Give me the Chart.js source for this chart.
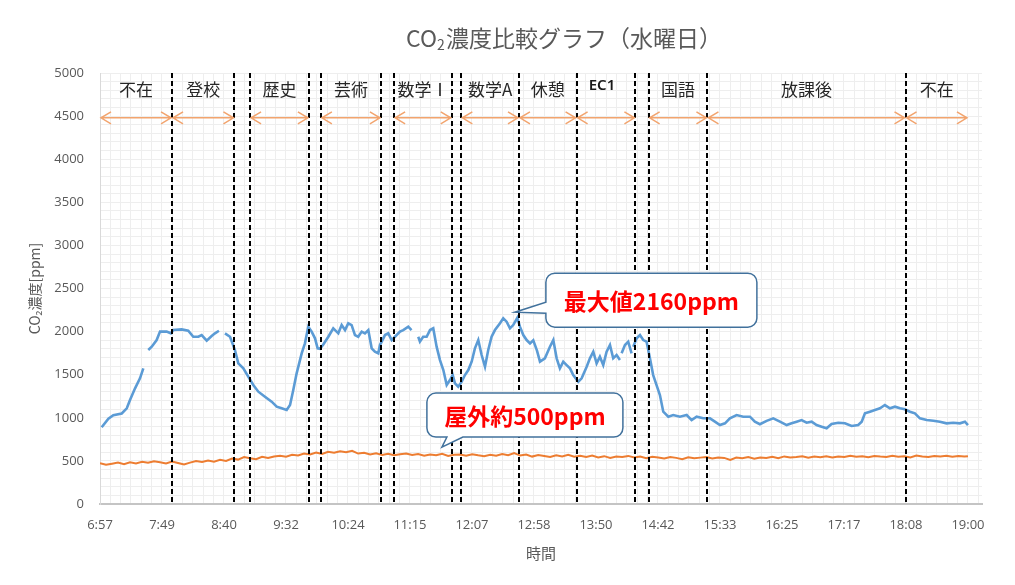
<!DOCTYPE html>
<html lang="ja">
<head>
<meta charset="utf-8">
<title>CO2濃度比較グラフ（水曜日）</title>
<script src="https://cdn.jsdelivr.net/npm/chart.js@4.4.1/dist/chart.umd.min.js"></script>
<style>
  html, body { margin: 0; padding: 0; background: #fff; }
  #wrap { width: 1015px; height: 585px; }
</style>
</head>
<body>
<div id="wrap"><canvas id="co2Chart" width="1015" height="585"></canvas></div>
<script>
// ============================================================
// CO2 comparison (Wednesday) — classroom vs outdoor
// times are minutes since midnight (6:57 = 417, 19:00 = 1140)
// ============================================================

const tickLabels = ['6:57', '7:49', '8:40', '9:32', '10:24', '11:15', '12:07', '12:58',
  '13:50', '14:42', '15:33', '16:25', '17:17', '18:08', '19:00'];
const X_START = 417, X_END = 1140, X_MAX = 1151.7;

// classroom sensor (null = missing reading)
const roomTimes = [
  418.4, 424.0, 428.1, 435.1, 439.3, 442.0, 446.2, 450.3, 453.1, 455.0,
  457.2, 460.1, 464.2, 467.0, 472.5, 476.1, 478.1, 485.0, 490.5, 494.7,
  498.9, 501.7, 505.9, 510.0, 512.8, 516.1, 518.5, 521.1, 525.3, 529.4,
  532.2, 536.4, 540.5, 544.7, 548.9, 554.4, 560.0, 564.2, 568.3, 572.5,
  575.3, 578.0, 580.8, 585.0, 587.7, 590.5, 593.3, 596.1, 598.3, 600.2,
  603.0, 607.2, 611.3, 615.5, 618.3, 621.1, 623.8, 626.6, 629.4, 632.1,
  635.0, 637.7, 640.5, 643.3, 646.0, 648.8, 650.2, 654.4, 657.1, 660.0,
  662.7, 666.9, 669.6, 673.8, 676.5, 679.3, 682.1, 683.5, 686.2, 689.1,
  691.9, 694.6, 697.4, 700.2, 703.0, 705.8, 708.5, 710.8, 712.7, 715.4,
  718.3, 721.0, 723.8, 726.6, 729.3, 732.1, 734.9, 737.7, 740.4, 743.2,
  746.0, 750.2, 752.9, 755.7, 758.5, 761.2, 764.6, 766.8, 769.6, 772.4,
  775.2, 777.9, 781.0, 783.5, 787.6, 791.8, 794.6, 797.4, 800.1, 802.9,
  805.7, 808.5, 811.2, 815.4, 818.2, 822.4, 825.1, 827.9, 830.7, 833.4,
  836.2, 839.0, 841.8, 844.5, 847.3, 850.1, 850.8, 851.5, 854.3, 857.0,
  859.8, 860.5, 861.2, 864.0, 866.8, 869.5, 872.3, 875.1, 877.8, 880.6,
  883.4, 886.2, 890.4, 894.5, 900.1, 905.7, 909.8, 914.0, 919.5, 925.1,
  929.2, 933.4, 937.6, 941.7, 947.3, 952.8, 958.4, 962.5, 966.7, 972.3,
  977.8, 983.4, 989.0, 993.1, 997.3, 1001.4, 1005.6, 1009.8, 1013.9, 1018.1,
  1022.3, 1026.4, 1032.0, 1037.5, 1043.1, 1048.6, 1051.5, 1054.2, 1058.4, 1062.5,
  1066.7, 1070.8, 1075.0, 1079.2, 1083.4, 1087.5, 1091.7, 1095.8, 1100.0, 1105.6,
  1111.2, 1116.6, 1122.2, 1127.7, 1133.3, 1137.5, 1140.0
];
const roomPpm = [
  890, 990, 1030, 1050, 1110, 1206, 1342, 1458, 1574, null,
  1786, 1825, 1902, 2000, 2000, 1980, 2018, 2026, 2010, 1940,
  1940, 1960, 1894, 1948, 1980, 2010, null, 1980, 1940, 1786,
  1632, 1574, 1477, 1380, 1303, 1245, 1187, 1129, 1110, 1090,
  1148, 1322, 1516, 1748, 1864, 2057, 2000, 1922, 1806, 1800,
  1850, 1940, 2038, 1980, 2076, 2018, 2096, 2076, 1960, 1940,
  2000, 1980, 2018, 1806, 1767, 1748, 1844, 1960, 1980, 1902,
  1940, 2000, 2018, 2057, 2018, null, 1940, 1883, 1940, 1940,
  2018, 2038, 1825, 1670, 1554, 1380, 1438, 1496, 1400, 1361,
  1419, 1496, 1554, 1651, 1806, 1902, 1728, 1593, 1786, 1940,
  2018, 2096, 2154, 2115, 2038, 2076, 2160, 2057, 1960, 1902,
  1864, 1900, 1780, 1651, 1690, 1825, 1902, 1690, 1574, 1651,
  1612, 1574, 1496, 1419, 1458, 1593, 1690, 1767, 1632, 1709,
  1612, 1767, 1844, 1690, 1728, 1670, null, 1748, 1844, 1883,
  1748, null, 1825, 1922, 1960, 1902, 1883, 1690, 1496, 1380,
  1264, 1071, 1013, 1032, 1013, 1032, 974, 1013, 994, 994,
  955, 916, 936, 994, 1032, 1013, 1013, 955, 925, 965,
  994, 955, 916, 936, 955, 974, 943, 955, 916, 897,
  878, 928, 943, 936, 905, 916, 955, 1052, 1071, 1090,
  1110, 1148, 1110, 1129, 1110, 1098, 1071, 1052, 994, 974,
  966, 955, 936, 943, 936, 955, 916
];

// outdoor sensor, one reading every 5 minutes from 6:57
const OUT_STEP = 5;
const outdoorPpm = [
  472, 455, 468, 480, 462, 485, 470, 490, 478, 495, 485,
  470, 492, 476, 458, 480, 498, 488, 505, 490, 512,
  500, 528, 515, 545, 530, 520, 548, 535, 552, 560,
  548, 570, 562, 585, 575, 598, 580, 605, 595, 612,
  600, 618, 585, 595, 575, 588, 570, 582, 565, 578,
  585, 568, 580, 560, 575, 565, 582, 558, 570, 575,
  560, 578, 565, 555, 572, 560, 580, 565, 590, 562,
  575, 550, 568, 558, 545, 565, 552, 570, 548, 560,
  545, 562, 540, 555, 535, 552, 545, 558, 540, 550,
  532, 548, 540, 528, 545, 535, 520, 542, 530, 538,
  545, 528, 540, 535, 512, 538, 530, 545, 525, 540,
  535, 548, 530, 552, 540, 545, 555, 538, 550, 542,
  555, 540, 552, 545, 560, 548, 555, 542, 558, 550,
  545, 560, 548, 555, 540, 562, 550, 545, 558, 552,
  560, 548, 556, 550, 555
];

// timetable: dashed boundaries and labelled periods
const boundaryTimes = [477, 529, 542, 591, 601, 651, 662, 710, 718, 766, 814, 863, 874, 923, 1088];
const periodLabels = ['不在', '登校', '歴史', '芸術', '数学Ⅰ', '数学A', '休憩', 'EC1', '国語', '放課後', '不在'];
const periodStarts = [417, 477, 542, 601, 662, 718, 766, 814, 874, 923, 1088];
const periodEnds   = [477, 529, 591, 651, 710, 766, 814, 863, 923, 1088, 1140];
const ARROW_PPM = 4480, LABEL_PPM = 4810;

// callouts: text, tip (time, ppm)
const calloutTexts = ['最大値2160ppm', '屋外約500ppm'];
const calloutTipTimes = [762.6, 701.8];
const calloutTipPpm = [2225, 660];

const C = {
  room: '#5B9BD5',
  outdoor: '#ED7D31',
  arrow: '#F2A46E',
  grid: '#D9D9D9',
  minor: '#EEEEEE',
  text: '#595959',
  box: '#41719C',
  red: '#FF0000'
};
const JP = '"Noto Sans CJK JP", "Noto Sans", sans-serif';

const roomPoints = roomTimes.map((t, i) => ({ x: t, y: roomPpm[i] }));
const outdoorPoints = outdoorPpm.map((v, i) => ({ x: Math.min(X_START + i * OUT_STEP, X_END), y: v }));

const majorX = tickLabels.map((_, i) => ({ value: X_START + i * (X_END - X_START) / (tickLabels.length - 1) }));
const minorX = [];
for (let v = X_START; v <= X_MAX; v += (X_END - X_START) / 14 / 6) minorX.push({ value: v });
const minorY = [];
for (let v = 0; v <= 5000; v += 100) minorY.push({ value: v });

function calloutPath(ctx, l, t, w, h, r, tip, side, b1, b2) {
  const R = l + w, B = t + h;
  ctx.beginPath();
  ctx.moveTo(l + r, t);
  ctx.lineTo(R - r, t); ctx.arcTo(R, t, R, t + r, r);
  ctx.lineTo(R, B - r); ctx.arcTo(R, B, R - r, B, r);
  if (side === 'bottom') { ctx.lineTo(b2, B); ctx.lineTo(tip.x, tip.y); ctx.lineTo(b1, B); }
  ctx.lineTo(l + r, B); ctx.arcTo(l, B, l, B - r, r);
  if (side === 'left') { ctx.lineTo(l, b2); ctx.lineTo(tip.x, tip.y); ctx.lineTo(l, b1); }
  ctx.lineTo(l, t + r); ctx.arcTo(l, t, l + r, t, r);
  ctx.closePath();
}

const overlay = {
  id: 'overlay',
  afterDatasetsDraw(chart) {
    const { ctx, chartArea: a, scales: { x, y } } = chart;
    ctx.save();

    // period boundaries
    ctx.strokeStyle = '#000';
    ctx.lineWidth = 2;
    ctx.setLineDash([5, 3]);
    boundaryTimes.forEach(t => {
      const px = Math.round(x.getPixelForValue(t));
      ctx.beginPath(); ctx.moveTo(px, a.top); ctx.lineTo(px, a.bottom); ctx.stroke();
    });
    ctx.setLineDash([]);

    // double arrows + period names
    const ay = y.getPixelForValue(ARROW_PPM);
    const ly = y.getPixelForValue(LABEL_PPM);
    ctx.strokeStyle = C.arrow;
    ctx.lineWidth = 1.5;
    periodLabels.forEach((lab, i) => {
      const x1 = x.getPixelForValue(periodStarts[i]) + 1;
      const x2 = x.getPixelForValue(periodEnds[i]) - 1;
      ctx.beginPath();
      ctx.moveTo(x1, ay); ctx.lineTo(x2, ay);
      ctx.moveTo(x1 + 10, ay - 6); ctx.lineTo(x1, ay); ctx.lineTo(x1 + 10, ay + 6);
      ctx.moveTo(x2 - 10, ay - 6); ctx.lineTo(x2, ay); ctx.lineTo(x2 - 10, ay + 6);
      ctx.stroke();

      const cx = (x1 + x2) / 2;
      ctx.textAlign = 'center';
      ctx.textBaseline = 'middle';
      if (lab === 'EC1') {
        ctx.fillStyle = '#1a1a1a';
        ctx.font = '600 15px "Noto Sans", sans-serif';
        ctx.fillText(lab, cx - 4, ly - 4);
      } else {
        ctx.fillStyle = '#262626';
        ctx.font = '17px ' + JP;
        ctx.fillText(lab, cx, ly);
      }
    });

    // callouts
    const tips = calloutTexts.map((_, i) => ({
      x: x.getPixelForValue(calloutTipTimes[i]),
      y: y.getPixelForValue(calloutTipPpm[i])
    }));
    const boxes = [
      { l: tips[0].x + 31, t: tips[0].y - 39, w: 211, h: 54, side: 'left', b1: tips[0].y - 10, b2: tips[0].y + 1 },
      { l: tips[1].x - 15, t: tips[1].y - 54, w: 196, h: 44, side: 'bottom', b1: tips[1].x + 5, b2: tips[1].x + 21 }
    ];
    boxes.forEach((b, i) => {
      calloutPath(ctx, b.l, b.t, b.w, b.h, 9, tips[i], b.side, b.b1, b.b2);
      ctx.fillStyle = '#fff';
      ctx.fill();
      ctx.strokeStyle = C.box;
      ctx.lineWidth = 1.5;
      ctx.stroke();
      ctx.fillStyle = C.red;
      ctx.font = 'bold 23px ' + JP;
      ctx.textAlign = 'center';
      ctx.textBaseline = 'middle';
      ctx.fillText(calloutTexts[i], b.l + b.w / 2, b.t + b.h / 2 + 1);
    });
    ctx.restore();
  },
  afterDraw(chart) {
    // title with subscript 2
    const { ctx } = chart;
    ctx.save();
    ctx.fillStyle = C.text;
    ctx.textBaseline = 'middle';
    ctx.textAlign = 'left';
    const big = '23px ' + JP, small = '14px ' + JP;
    ctx.font = big;
    const w1 = ctx.measureText('CO').width;
    const w3 = ctx.measureText('濃度比較グラフ（水曜日）').width;
    ctx.font = small;
    const w2 = ctx.measureText('2').width;
    let sx = 563.5 - (w1 + w2 + w3) / 2;
    const cy = 38;
    ctx.font = big;
    ctx.fillText('CO', sx, cy);
    ctx.font = small;
    ctx.fillText('2', sx + w1, cy + 7);
    ctx.font = big;
    ctx.fillText('濃度比較グラフ（水曜日）', sx + w1 + w2 + 1, cy);
    ctx.restore();
  }
};

Chart.defaults.font.family = '"Open Sans", "Noto Sans", sans-serif';
Chart.defaults.color = C.text;

new Chart(document.getElementById('co2Chart'), {
  type: 'line',
  data: {
    datasets: [
      { label: '教室', data: roomPoints, borderColor: C.room, borderWidth: 2.6, pointRadius: 0, tension: 0, spanGaps: false },
      { label: '屋外', data: outdoorPoints, borderColor: C.outdoor, borderWidth: 2, pointRadius: 0, tension: 0 }
    ]
  },
  options: {
    responsive: false,
    animation: false,
    devicePixelRatio: 1,
    layout: { padding: { top: 73, right: 33, left: 0, bottom: 0 } },
    plugins: { legend: { display: false }, tooltip: { enabled: false }, title: { display: false } },
    scales: {
      x: {
        type: 'linear', min: X_START, max: X_MAX,
        afterBuildTicks: s => { s.ticks = majorX.map(t => ({ value: t.value })); },
        afterFit: s => { s.height = 81; },
        grid: { color: C.grid, drawTicks: false },
        border: { color: '#C4C4C4', width: 2 },
        ticks: { autoSkip: false, maxRotation: 0, padding: 13, font: { size: 13 }, color: C.text,
          callback: (v, i) => tickLabels[i] },
        title: { display: true, text: '時間', color: C.text, font: { family: JP, size: 15 }, padding: { top: 0, bottom: 23 } }
      },
      y: {
        min: 0, max: 5000,
        afterFit: s => { s.width = 100; },
        grid: { color: C.grid, drawTicks: false },
        border: { color: C.grid },
        ticks: { stepSize: 500, padding: 16, font: { size: 13 }, color: C.text, callback: v => String(v) },
        title: { display: true, text: 'CO₂濃度[ppm]', color: C.text, font: { family: JP, size: 14 }, padding: { top: 26, bottom: 0 } }
      },
      x2: {
        axis: 'x', type: 'linear', position: 'bottom', min: X_START, max: X_MAX, z: -1,
        afterBuildTicks: s => { s.ticks = minorX.map(t => ({ value: t.value })); },
        afterFit: s => { s.height = 0; },
        grid: { color: C.minor, drawTicks: false },
        border: { display: false },
        ticks: { display: false }
      },
      y2: {
        axis: 'y', type: 'linear', position: 'left', min: 0, max: 5000, z: -1,
        afterBuildTicks: s => { s.ticks = minorY.map(t => ({ value: t.value })); },
        afterFit: s => { s.width = 0; },
        grid: { color: C.minor, drawTicks: false },
        border: { display: false },
        ticks: { display: false }
      }
    }
  },
  plugins: [overlay]
});
</script>
</body>
</html>
